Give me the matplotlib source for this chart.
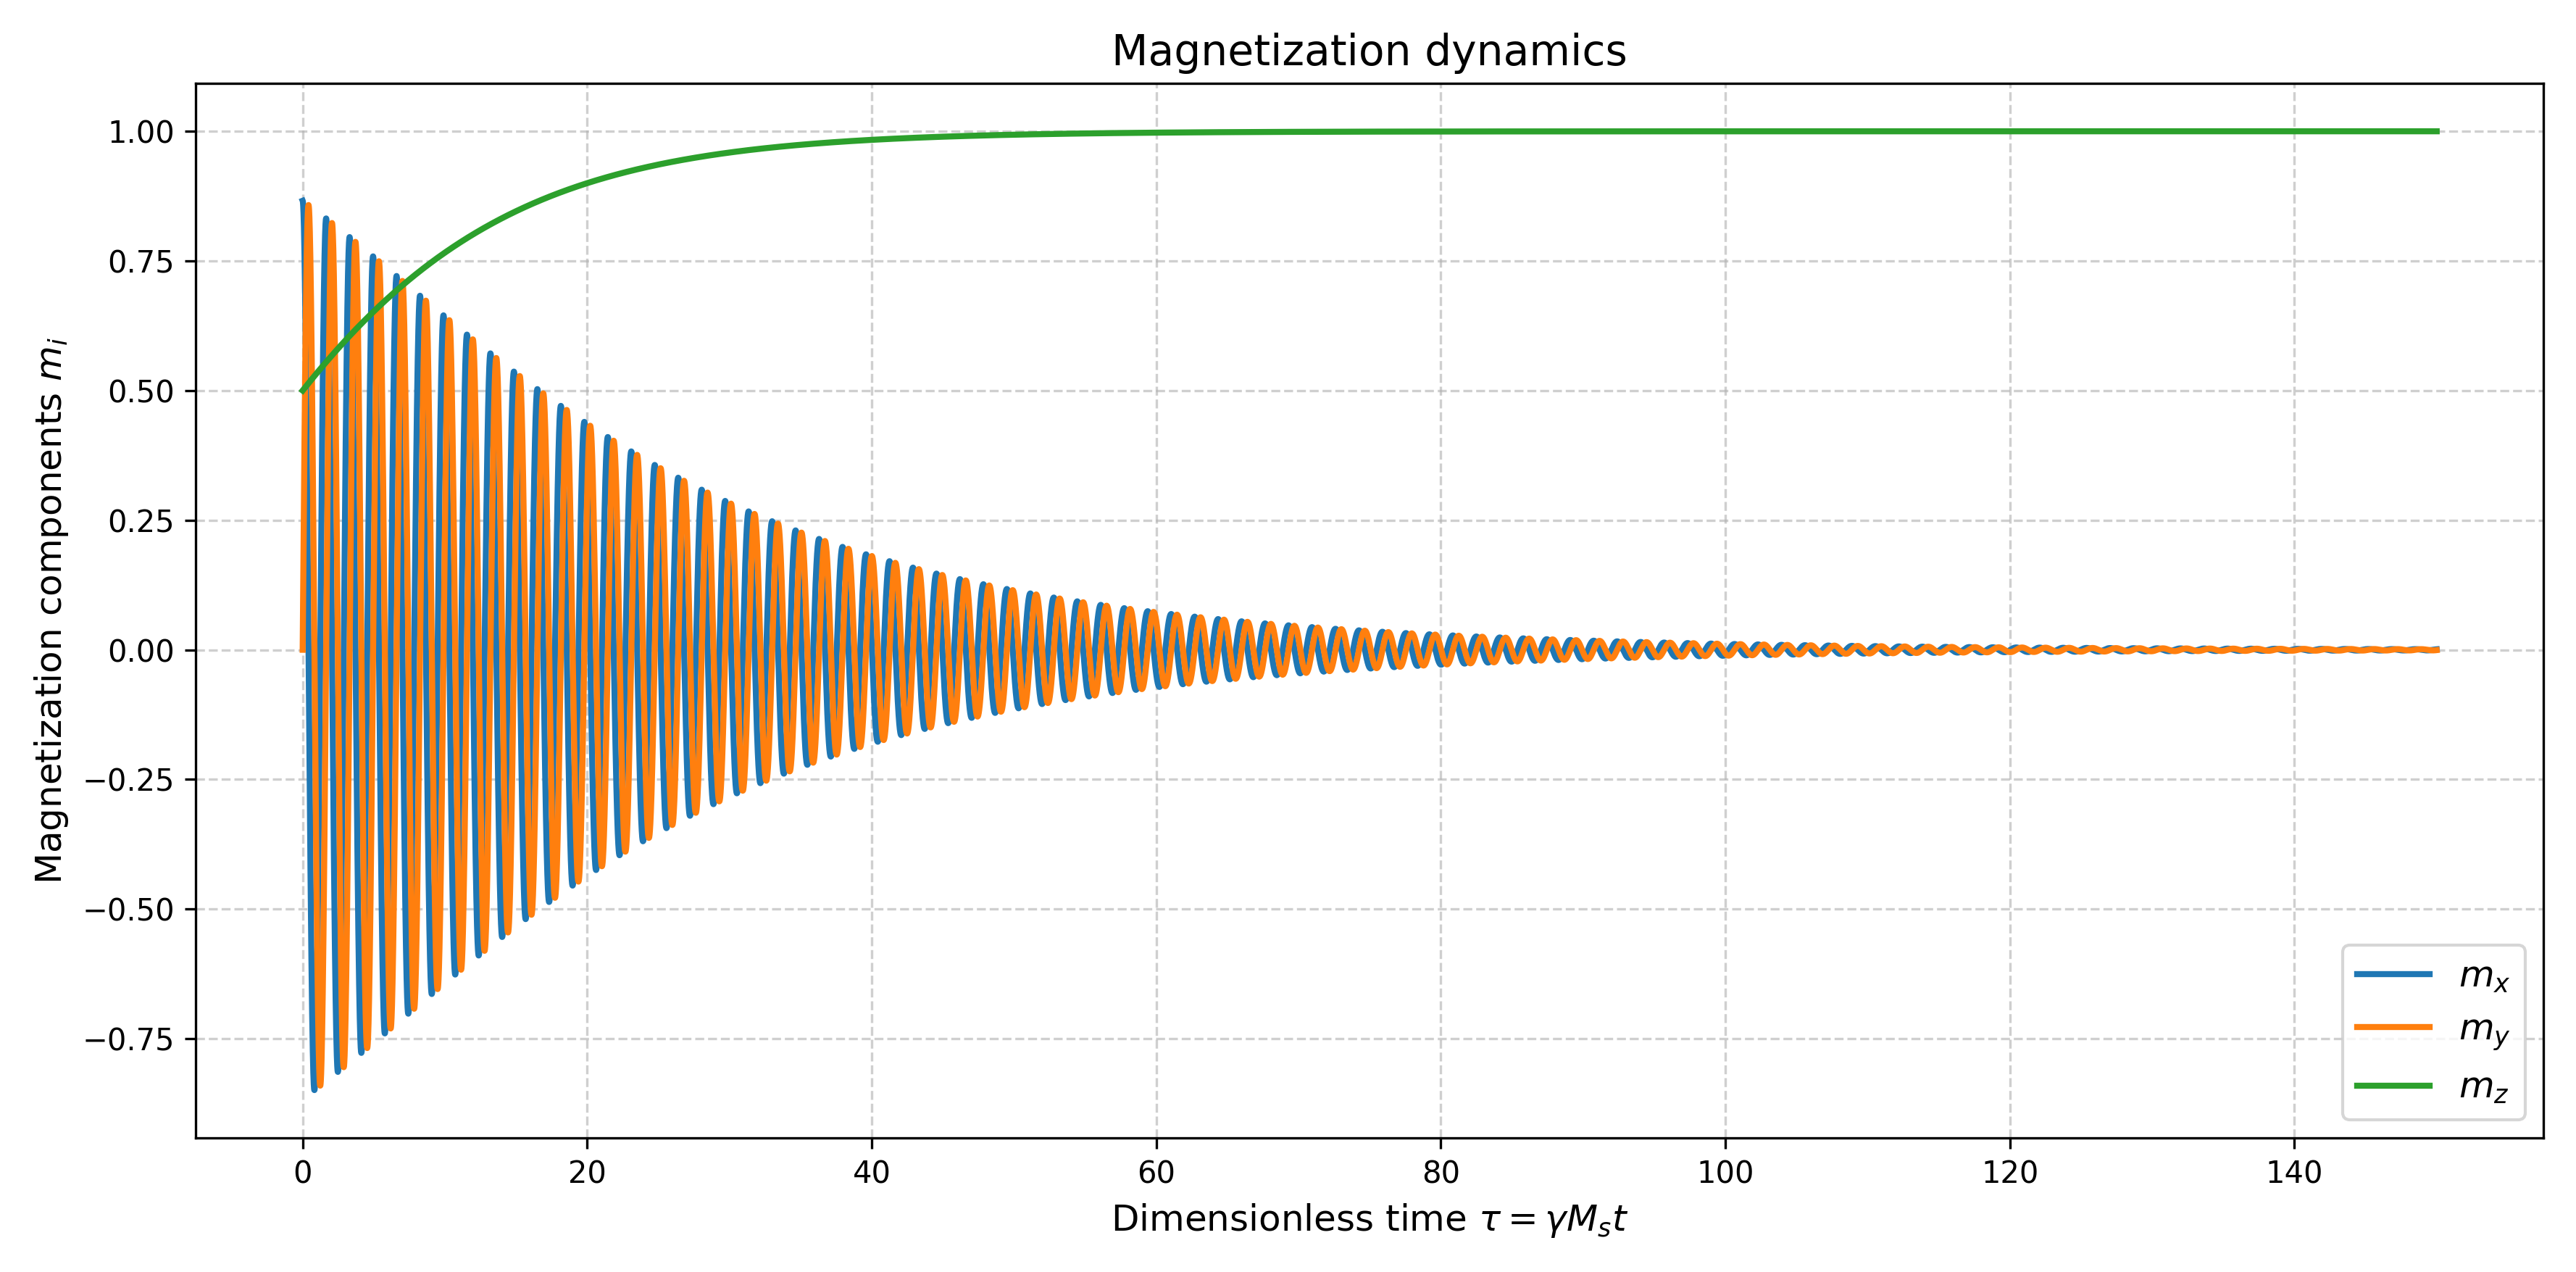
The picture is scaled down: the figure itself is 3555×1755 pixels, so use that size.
import numpy as np
import matplotlib.pyplot as plt

# Parameters
theta0_deg = 60.0        # initial angle: m_x=0.866, m_z=0.5
period = 1.65            # precession period in tau
mz_at_20 = 0.9           # m_z value at tau = 20
t_end = 150.0
n_points = 20000

tau = np.linspace(0, t_end, n_points)
omega = 2 * np.pi / period
theta0 = np.radians(theta0_deg)
theta20 = np.arccos(mz_at_20)
rate = -np.log(np.tan(theta20 / 2) / np.tan(theta0 / 2)) / 20.0

# damped precession solution (LLG with field along z)
theta = 2 * np.arctan(np.tan(theta0 / 2) * np.exp(-rate * tau))
phi = omega * tau
mx = np.sin(theta) * np.cos(phi)
my = np.sin(theta) * np.sin(phi)
mz = np.cos(theta)

fig, ax = plt.subplots(figsize=(11.85, 5.85), dpi=300)
ax.plot(tau, mx, color='#1f77b4', lw=2, label=r'$m_x$')
ax.plot(tau, my, color='#ff7f0e', lw=2, label=r'$m_y$')
ax.plot(tau, mz, color='#2ca02c', lw=2, label=r'$m_z$')
ax.set_xlabel(r'Dimensionless time $\tau = \gamma M_s t$', fontsize=12)
ax.set_ylabel(r'Magnetization components $m_i$', fontsize=12)
ax.set_title('Magnetization dynamics', fontsize=14)
ax.grid(True, linestyle='--', alpha=0.6)
ax.legend(loc='lower right', fontsize=12)
plt.tight_layout()
plt.savefig('out.png', dpi=300)
